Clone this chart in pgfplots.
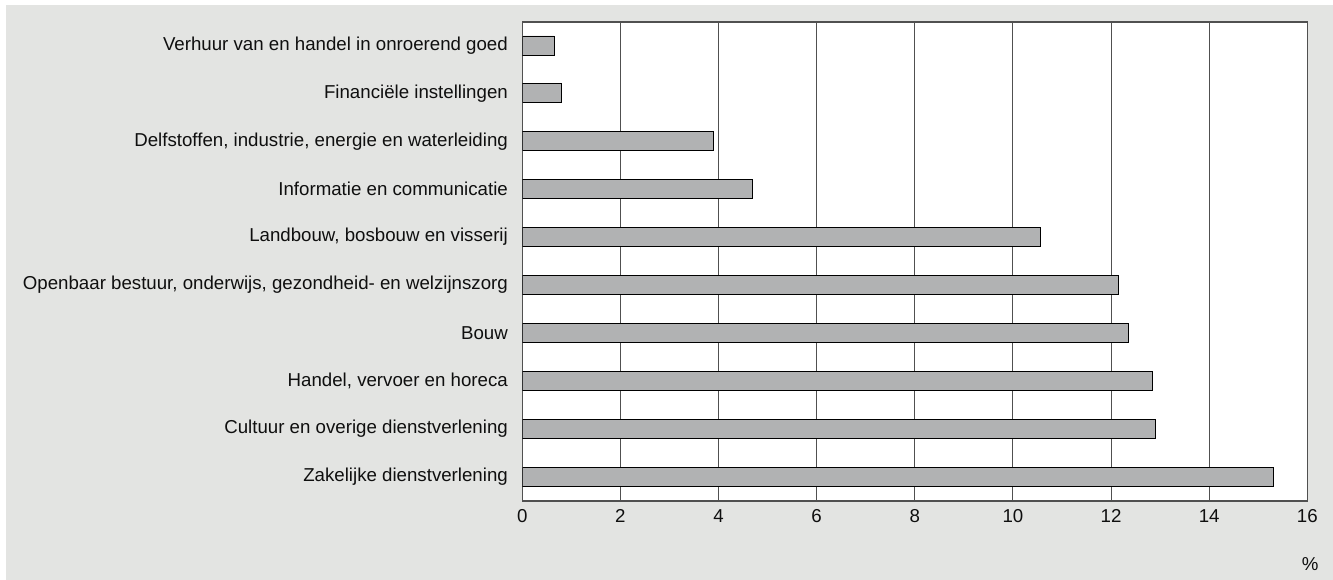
\documentclass[border=0pt]{standalone}
\usepackage{fontspec}
\setmainfont{Liberation Sans}
\usepackage{pgfplots}
\pgfplotsset{compat=1.18}
\definecolor{bg}{RGB}{227,228,226}
\definecolor{barfill}{RGB}{177,178,179}
\definecolor{frame}{RGB}{80,80,80}
\definecolor{txt}{RGB}{15,15,15}
\begin{document}
\begin{tikzpicture}[x=1bp,y=1bp]
\fill[white] (0,0) rectangle (1333,580);
\fill[bg] (6,0) rectangle (1333,575);
\begin{axis}[
  at={(522.3bp,79bp)}, anchor=south west,
  scale only axis, width=785bp, height=479bp,
  xmin=0, xmax=16, ymin=-0.51, ymax=9.49,
  xbar, bar width=19bp,
  axis background/.style={fill=white},
  xtick={0,2,...,16}, ytick={0,...,9},
  yticklabels={Zakelijke dienstverlening, Cultuur en overige dienstverlening, {Handel, vervoer en horeca}, Bouw, {Openbaar bestuur, onderwijs, gezondheid- en welzijnszorg}, {Landbouw, bosbouw en visserij}, Informatie en communicatie, {Delfstoffen, industrie, energie en waterleiding}, Financiële instellingen, Verhuur van en handel in onroerend goed},
  xmajorgrids, grid style={frame, line width=1bp},
  axis line style={frame, line width=1.2bp},
  tick style={draw=none},
  /pgf/number format/assume math mode=true,
  ticklabel style={font=\fontsize{18.75}{22}\selectfont, text=txt, inner sep=0pt},
  yticklabel style={xshift=-10bp},
  xticklabel style={yshift=-8bp},
  xlabel={\%},
  xlabel style={at={(rel axis cs:1.0035,-0.1315)}, anchor=center, font=\fontsize{18.75}{22}\selectfont, text=txt, inner sep=0pt},
]
\addplot[fill=barfill, draw=black, line width=0.9bp] coordinates {
(15.3,0) (12.90,1) (12.85,2) (12.35,3) (12.15,4) (10.56,5) (4.69,6) (3.89,7) (0.80,8) (0.65,9)
};
\end{axis}
\end{tikzpicture}
\end{document}
